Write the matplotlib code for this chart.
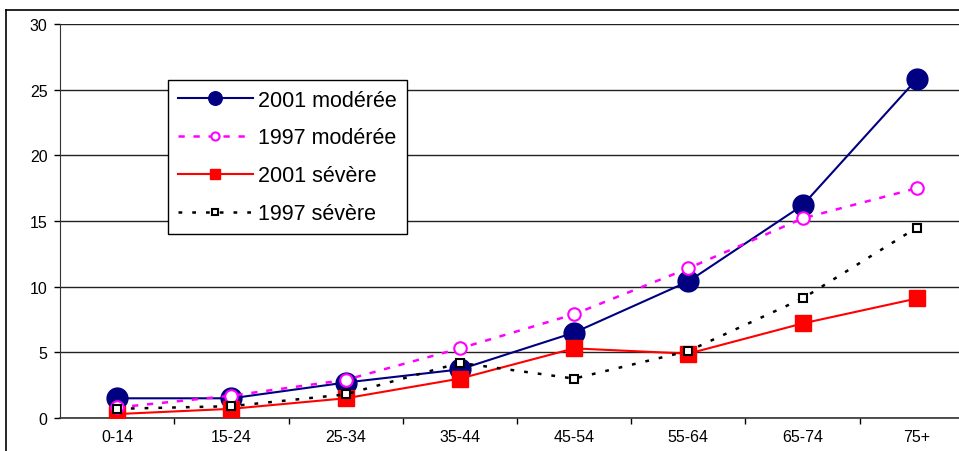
import matplotlib
matplotlib.use("Agg")
import matplotlib.pyplot as plt
from matplotlib.lines import Line2D

plt.rcParams['font.family'] = ['Liberation Sans', 'DejaVu Sans']

# --- données ---
categories = ['0-14', '15-24', '25-34', '35-44', '45-54', '55-64', '65-74', '75+']
mod_2001 = [1.5, 1.5, 2.7, 3.7, 6.5, 10.4, 16.2, 25.8]
mod_1997 = [0.8, 1.7, 2.9, 5.3, 7.9, 11.4, 15.2, 17.5]
sev_2001 = [0.3, 0.7, 1.5, 3.0, 5.3, 4.9, 7.2, 9.1]
sev_1997 = [0.7, 0.9, 1.8, 4.2, 3.0, 5.1, 9.1, 14.5]
yticks = [0, 5, 10, 15, 20, 25, 30]

W, H = 959, 452
fig = plt.figure(figsize=(W / 100, H / 100), dpi=100)
# l'axe dépasse à droite comme dans l'original (graphique rogné)
ax = fig.add_axes([60 / W, 1 - 419 / H, 914 / W, 394 / H])

x = list(range(len(categories)))

ax.plot(x, mod_2001, color='#000080', lw=1.5, marker='o', ms=15,
        mfc='#000080', mec='#000080', label='2001 modérée', zorder=3)
ax.plot(x, mod_1997, color='#ff00ff', lw=1.8, ls=(0, (2.5, 3.5)), marker='o', ms=9,
        mfc='white', mec='#ff00ff', mew=1.5, label='1997 modérée', zorder=4)
ax.plot(x, sev_2001, color='#ff0000', lw=1.5, marker='s', ms=12,
        mfc='#ff0000', mec='#ff0000', label='2001 sévère', zorder=3)
ax.plot(x, sev_1997, color='black', lw=1.8, ls=(0, (1.5, 4)), marker='s', ms=6,
        mfc='white', mec='black', mew=1.5, label='1997 sévère', zorder=5)

ax.set_xlim(-0.5, len(categories) - 0.5)
ax.set_ylim(0, 30)
ax.set_yticks(yticks)
ax.set_xticks(x)
ax.set_xticklabels(categories)
ax.set_xticks([i + 0.5 for i in x[:-1]], minor=True)
ax.tick_params(axis='x', which='major', length=0, pad=8, labelsize=11.5)
ax.tick_params(axis='x', which='minor', length=4, direction='out', width=1)
ax.tick_params(axis='y', length=4, direction='out', width=1, labelsize=11.5, pad=5)

ax.yaxis.grid(True, color='#222222', lw=1)
ax.set_axisbelow(True)
for s in ['top', 'right']:
    ax.spines[s].set_visible(False)
ax.spines['left'].set_color('#333333')
ax.spines['bottom'].set_color('#333333')
ax.spines['bottom'].set_linewidth(1.2)

leg = ax.legend(loc='upper left', bbox_to_anchor=(168 / W, 1 - 81 / H),
                bbox_transform=fig.transFigure, fontsize=15.5, frameon=True,
                fancybox=False, edgecolor='black', handlelength=3.5,
                borderpad=0.45, labelspacing=0.78, handletextpad=0.25,
                borderaxespad=0, markerscale=0.65, framealpha=1)
leg.get_frame().set_linewidth(1)

# cadre extérieur
fig.add_artist(Line2D([6 / W, 6 / W], [0, 1 - 11 / H], color='black', lw=1.2,
                      transform=fig.transFigure))
fig.add_artist(Line2D([6 / W, 1], [1 - 11 / H, 1 - 11 / H], color='black', lw=1.2,
                      transform=fig.transFigure))

fig.savefig('out.png', dpi=100)
